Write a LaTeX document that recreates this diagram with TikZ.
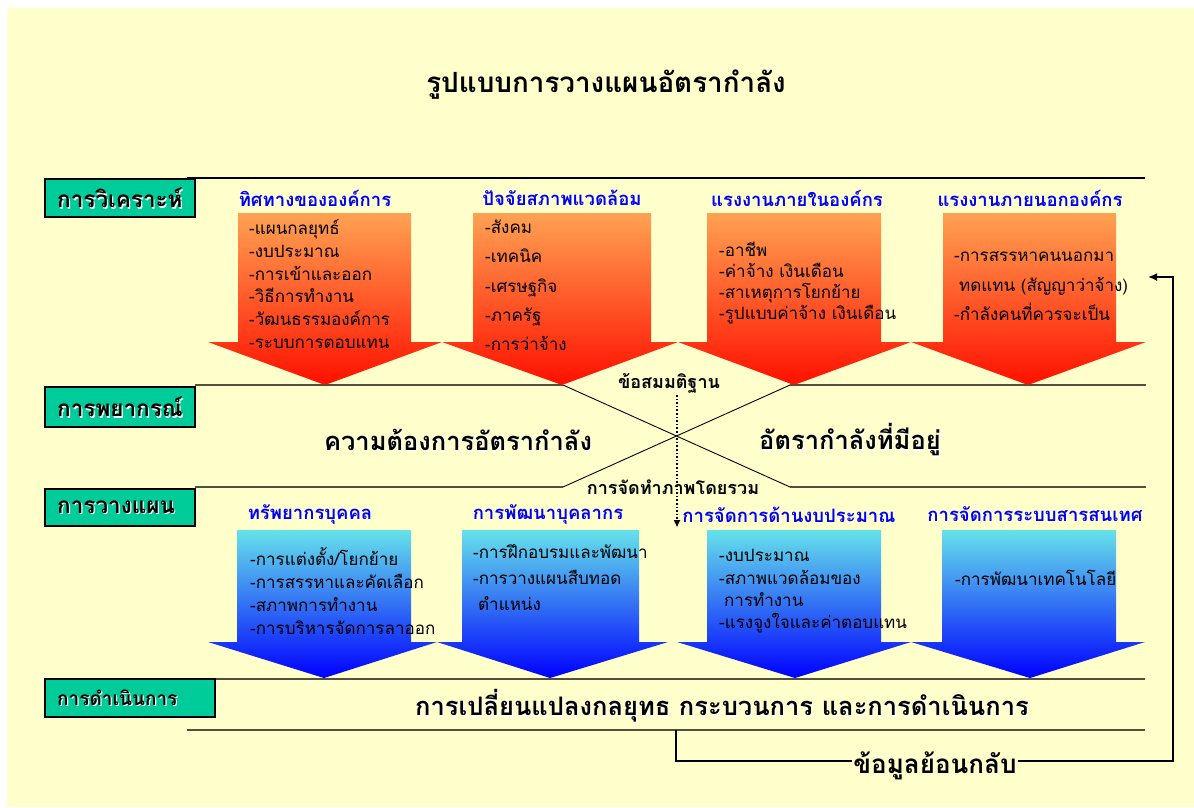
\documentclass[tikz,border=0pt]{standalone}
\usepackage{fontspec}
\setmainfont[Script=Thai]{Loma}
\usetikzlibrary{arrows.meta}
\definecolor{bgyellow}{RGB}{255,255,204}
\definecolor{lblgreen}{RGB}{0,204,153}
\definecolor{hdrblue}{RGB}{0,0,255}
\definecolor{orgtop}{RGB}{255,162,82}
\definecolor{orgbot}{RGB}{255,16,0}
\definecolor{blutop}{RGB}{102,226,234}
\definecolor{blubot}{RGB}{0,0,255}
\definecolor{rulecol}{RGB}{80,80,64}
% #1 shaft left, #2 shaft right, #3 top, #4 head y, #5 head left, #6 head right, #7 tip x, #8 tip y, #9 style
\newcommand{\fatarrow}[9]{%
  \shade[#9] (#1,#3) -- (#2,#3) -- (#2,#4) -- (#6,#4) -- (#7,#8) -- (#5,#4) -- (#1,#4) -- cycle;}
\newcommand{\glowtext}[4]{%
  \node[text=white, font=#3, anchor=west, inner sep=0pt, xshift=1.2pt, yshift=-1.2pt] at #2 {#4};
  \node[font=#3, anchor=west, inner sep=0pt] (#1) at #2 {#4};}
\begin{document}
\begin{tikzpicture}[x=1pt,y=-1pt,
  lblbox/.style={draw=black, line width=1.3pt, fill=lblgreen},
  hdr/.style={text=hdrblue, font=\fontsize{18.5}{22}\selectfont\bfseries, inner sep=0pt},
  bullets/.style={align=left, anchor=west, inner sep=0pt},
  orangearrow/.style={top color=orgtop, bottom color=orgbot},
  bluearrow/.style={top color=blutop, bottom color=blubot},
  rule/.style={draw=rulecol, line width=1.4pt},
  xline/.style={draw=black, line width=0.9pt},
  bigtext/.style={font=\fontsize{25.5}{30}\selectfont\bfseries, inner sep=0pt},
  smallbold/.style={font=\fontsize{18}{21}\selectfont\bfseries, inner sep=0pt}
]
\useasboundingbox (0,0) rectangle (1194,807);
\fill[white] (0,0) rectangle (1194,807);
\fill[bgyellow] (7,8) rectangle (1194,807);

% title
\node[font=\fontsize{27.8}{32}\selectfont\bfseries, inner sep=0pt] (title) at (606,85) {รูปแบบการวางแผนอัตรากำลัง};

% horizontal rules and X
\draw[draw=black, line width=1.2pt] (187,178) -- (1145,178);
\coordinate (xul) at (563,385);
\coordinate (xll) at (563,487);
\coordinate (xur) at (790,385);
\coordinate (xlr) at (790,487);
\draw[rule] (195,385) -- (xul);
\draw[rule] (195,487) -- (xll);
\draw[rule] (xur) -- (1146,385);
\draw[rule] (xlr) -- (1146,487);
\draw[xline] (xul) -- (xlr);
\draw[xline] (xll) -- (xur);
\coordinate (opl) at (215,679);
\draw[rule] (opl) -- (1145,679);
\coordinate (fbstart) at (676,730);
\draw[rule] (187,730) -- (1145,730);

% orange arrows
\fatarrow{238}{411}{213}{342}{208}{442}{325}{385}{orangearrow}
\fatarrow{473}{651}{213}{342}{442}{678}{562}{385}{orangearrow}
\fatarrow{707}{881}{213}{342}{678}{911}{794}{385}{orangearrow}
\fatarrow{943}{1116}{213}{342}{911}{1146}{1028}{385}{orangearrow}

% blue arrows
\fatarrow{237}{411}{530}{642}{208}{437}{324}{678}{bluearrow}
\fatarrow{462}{639}{530}{642}{437}{668}{550}{678}{bluearrow}
\fatarrow{707}{881}{530}{642}{677}{911}{795}{678}{bluearrow}
\fatarrow{942}{1116}{530}{642}{911}{1145}{1030}{678}{bluearrow}

% label boxes
\node[lblbox, minimum width=150pt, minimum height=38pt, inner sep=0pt] (b1) at (120,198) {};
\node[lblbox, minimum width=150pt, minimum height=40pt, inner sep=0pt] (b2) at (120,407) {};
\node[lblbox, minimum width=150pt, minimum height=37pt, inner sep=0pt] (b3) at (120,507.5) {};
\node[lblbox, minimum width=170pt, minimum height=38pt, inner sep=0pt] (b4) at (130,698) {};
\glowtext{t1}{(57,198)}{\fontsize{22.5}{26}\selectfont\bfseries}{การวิเคราะห์}
\begin{scope}
\clip (45,387) rectangle (195,427);
\glowtext{t2}{(57,407)}{\fontsize{22.5}{26}\selectfont\bfseries}{การพยากรณ์}
\end{scope}
\glowtext{t3}{(57,507.5)}{\fontsize{22.5}{26}\selectfont\bfseries}{การวางแผน}
\glowtext{t4}{(57,698)}{\fontsize{19}{22}\selectfont\bfseries}{การดำเนินการ}

% top headers
\node[hdr] (h1) at (315,198) {ทิศทางขององค์การ};
\node[hdr] (h2) at (562,198) {ปัจจัยสภาพแวดล้อม};
\node[hdr] (h3) at (797,198) {แรงงานภายในองค์กร};
\node[hdr] (h4) at (1030,198) {แรงงานภายนอกองค์กร};

% top bullets
\node[bullets, font=\fontsize{17}{22.8}\selectfont] (u1) at (249,284) {-แผนกลยุทธ์\\-งบประมาณ\\-การเข้าและออก\\-วิธีการทำงาน\\-วัฒนธรรมองค์การ\\-ระบบการตอบแทน};
\node[bullets, font=\fontsize{17}{29.3}\selectfont] (u2) at (485,285.5) {-สังคม\\-เทคนิค\\-เศรษฐกิจ\\-ภาครัฐ\\-การว่าจ้าง};
\node[bullets, font=\fontsize{17}{20.7}\selectfont] (u3) at (719,283) {-อาชีพ\\-ค่าจ้าง เงินเดือน\\-สาเหตุการโยกย้าย\\-รูปแบบค่าจ้าง เงินเดือน};
\node[bullets, font=\fontsize{17}{29.5}\selectfont] (u4) at (954,286.5) {-การสรรหาคนนอกมา\\\hspace*{5pt}ทดแทน (สัญญาว่าจ้าง)\\-กำลังคนที่ควรจะเป็น};

% middle
\node[smallbold] (assume) at (669,383) {ข้อสมมติฐาน};
\node[bigtext, text=white, xshift=1.2pt, yshift=-1.2pt] at (458,440) {ความต้องการอัตรากำลัง};
\node[bigtext] (demand) at (458,440) {ความต้องการอัตรากำลัง};
\node[bigtext, text=white, xshift=1.2pt, yshift=-1.2pt] at (850,440) {อัตรากำลังที่มีอยู่};
\node[bigtext] (supply) at (850,440) {อัตรากำลังที่มีอยู่};
\node[smallbold] (overall) at (673,487) {การจัดทำภาพโดยรวม};
\coordinate (dotend) at (677,527);
\draw[line width=1.6pt, dotted, -{Triangle[length=7pt,width=6pt]}] (677,395) -- (dotend);

% bottom headers
\node[hdr] (g1) at (310,514) {ทรัพยากรบุคคล};
\node[hdr] (g2) at (548,514) {การพัฒนาบุคลากร};
\node[hdr] (g3) at (789,515) {การจัดการด้านงบประมาณ};
\node[hdr] (g4) at (1035,514) {การจัดการระบบสารสนเทศ};

% bottom bullets
\node[bullets, font=\fontsize{17}{22.7}\selectfont] (v1) at (250,591) {-การแต่งตั้ง/โยกย้าย\\-การสรรหาและคัดเลือก\\-สภาพการทำงาน\\-การบริหารจัดการลาออก};
\node[bullets, font=\fontsize{17}{26}\selectfont] (v2) at (473,578) {-การฝึกอบรมและพัฒนา\\-การวางแผนสืบทอด\\\hspace*{5pt}ตำแหน่ง};
\node[bullets, font=\fontsize{17}{22.3}\selectfont] (v3) at (719,591.5) {-งบประมาณ\\-สภาพแวดล้อมของ\\\hspace*{5pt}การทำงาน\\-แรงจูงใจและค่าตอบแทน};
\node[bullets, font=\fontsize{17}{20}\selectfont] (v4) at (955,578) {-การพัฒนาเทคโนโลยี};

% operation
\node[bigtext, text=white, xshift=1.2pt, yshift=-1.2pt] at (722,706) {การเปลี่ยนแปลงกลยุทธ กระบวนการ และการดำเนินการ};
\node[bigtext] (change) at (722,706) {การเปลี่ยนแปลงกลยุทธ กระบวนการ และการดำเนินการ};

% feedback
\coordinate (fbend) at (1148,277);
\draw[line width=2pt, -{Latex[length=9pt,width=8pt]}] (fbstart) |- (1173,761) |- (fbend);
\node[font=\fontsize{26}{30}\selectfont\bfseries, fill=bgyellow, inner xsep=1pt, inner ysep=0pt] (fb) at (935,766) {ข้อมูลย้อนกลับ};
\end{tikzpicture}
\end{document}
